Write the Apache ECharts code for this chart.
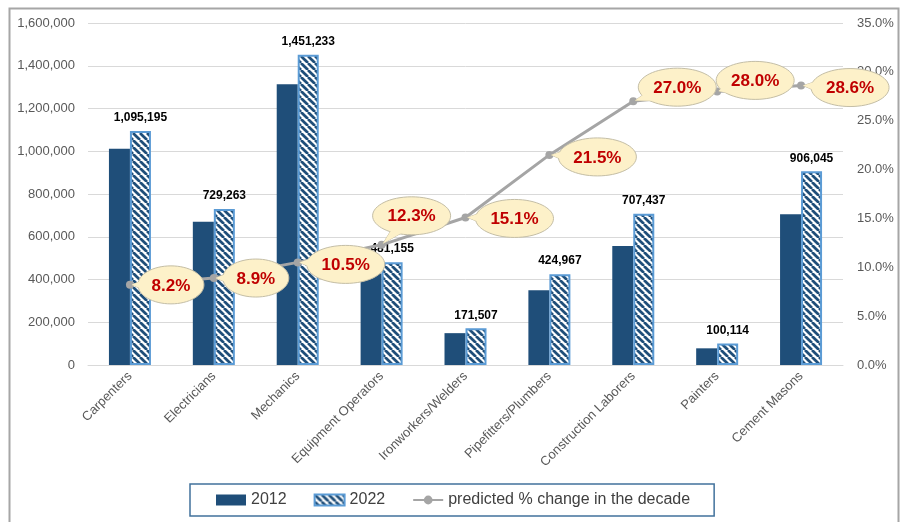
<!DOCTYPE html>
<html>
<head>
<meta charset="utf-8">
<script src="https://cdn.jsdelivr.net/npm/echarts@6/dist/echarts.min.js"></script>
<style>
html,body{margin:0;padding:0;background:#fff;}
#chart{width:904px;height:522px;}
</style>
</head>
<body>
<div id="chart"></div>
<script>
const categories = ['Carpenters','Electricians','Mechanics','Equipment Operators','Ironworkers/Welders','Pipefitters/Plumbers','Construction Laborers','Painters','Cement Masons'];
const values2012 = [1012000, 670000, 1313000, 428000, 149000, 350000, 557000, 78000, 705000];
const values2022 = [1095195, 729263, 1451233, 481155, 171507, 424967, 707437, 100114, 906045];
const pctChange = [8.2, 8.9, 10.5, 12.3, 15.1, 21.5, 27.0, 28.0, 28.6];
const seriesNames = ['2012', '2022', 'predicted % change in the decade'];

// layout only: where each callout bubble sits relative to its point (px)
const calloutOffsets = [[41,0],[42,0],[48,2],[30,-29],[49,1],[48,2],[44,-14],[38,-11],[49,2]];

const FONT = 'Liberation Sans';
const BUBBLE_FILL = '#FDF1C9';
const BUBBLE_STROKE = '#C4BEA6';

function hatch() {
  const c = document.createElement('canvas');
  c.width = 7; c.height = 7;
  const g = c.getContext('2d');
  g.fillStyle = '#ffffff';
  g.fillRect(0,0,7,7);
  g.strokeStyle = '#1F4E79';
  g.lineWidth = 2.7;
  for (let k = -1; k <= 1; k++) {
    g.beginPath();
    g.moveTo(k*7, 0);
    g.lineTo(k*7 + 7, 7);
    g.stroke();
  }
  return c;
}
const hatchPattern = { image: hatch(), repeat: 'repeat' };

const fmtNum = v => String(v).replace(/\B(?=(\d{3})+(?!\d))/g, ',');

function renderCallout(params, api) {
  const i = api.value(0);
  const v = api.value(1);
  const txt = v.toFixed(1) + '%';
  const p = api.coord([i, v]);
  const off = calloutOffsets[params.dataIndex];
  const rx = txt.length > 4 ? 39 : 33, ry = 19;
  const cx = p[0] + off[0], cy = p[1] + off[1];
  let dx = p[0] - cx, dy = p[1] - cy;
  const len = Math.sqrt(dx*dx + dy*dy) || 1;
  dx /= len; dy /= len;
  const edge = 1 / Math.sqrt((dx*dx)/(rx*rx) + (dy*dy)/(ry*ry));
  const bd = Math.max(edge - 8, 0);
  const bx = cx + dx*bd, by = cy + dy*bd;
  const px = -dy, py = dx;
  const hw = 6;
  const tipD = Math.max(len - 2, edge + 3);
  const tail = [[bx + px*hw, by + py*hw], [cx + dx*tipD, cy + dy*tipD], [bx - px*hw, by - py*hw]];
  return {
    type: 'group',
    children: [
      { type: 'polygon', shape: { points: tail }, style: { fill: BUBBLE_FILL, stroke: BUBBLE_STROKE, lineWidth: 1 } },
      { type: 'ellipse', shape: { cx: cx, cy: cy, rx: rx, ry: ry }, style: { fill: BUBBLE_FILL, stroke: BUBBLE_STROKE, lineWidth: 1 } },
      { type: 'polygon', shape: { points: tail }, style: { fill: BUBBLE_FILL } },
      { type: 'text', x: cx, y: cy + 1, style: {
          text: txt, fill: '#C00000',
          font: 'bold 17px "' + FONT + '"', align: 'center', verticalAlign: 'middle' } }
    ]
  };
}

const chart = echarts.init(document.getElementById('chart'), null, {renderer: 'canvas'});
chart.setOption({
  backgroundColor: '#ffffff',
  animation: false,
  textStyle: { fontFamily: FONT },
  graphic: [{
    type: 'rect', left: 7, top: 6, z: -10,
    shape: { width: 889, height: 522 },
    style: { fill: 'none', stroke: '#A6A6A6', lineWidth: 2 }
  }],
  grid: { left: 88, right: 61, top: 23, bottom: 157, containLabel: false },
  legend: {
    left: 190, top: 484,
    padding: [8, 24, 8, 26],
    borderColor: '#41719C', borderWidth: 1.5,
    itemWidth: 30, itemHeight: 11, itemGap: 27,
    textStyle: { fontSize: 16, color: '#404040', fontFamily: FONT },
    data: [{ name: seriesNames[0], icon: 'rect' }, { name: seriesNames[1], icon: 'rect' }, { name: seriesNames[2] }]
  },
  xAxis: {
    type: 'category',
    data: categories,
    axisLine: { lineStyle: { color: '#D9D9D9', width: 1 } },
    axisTick: { show: false },
    axisLabel: { rotate: 45, color: '#595959', fontSize: 13, margin: 9, interval: 0, fontFamily: FONT }
  },
  yAxis: [{
    type: 'value', min: 0, max: 1600000, interval: 200000,
    axisLine: { show: false }, axisTick: { show: false },
    splitLine: { lineStyle: { color: '#D9D9D9', width: 1 } },
    axisLabel: { color: '#595959', fontSize: 13, margin: 13, formatter: fmtNum, fontFamily: FONT }
  }, {
    type: 'value', min: 0, max: 35, interval: 5,
    axisLine: { show: false }, axisTick: { show: false },
    splitLine: { show: false },
    axisLabel: { color: '#595959', fontSize: 13, margin: 14, formatter: v => v.toFixed(1) + '%', fontFamily: FONT }
  }],
  series: [{
    name: seriesNames[0], type: 'bar', data: values2012,
    barWidth: 21, barGap: '0%',
    itemStyle: { color: '#1F4E79' }
  }, {
    name: seriesNames[1], type: 'bar', data: values2022,
    barWidth: 21,
    itemStyle: { color: hatchPattern, borderColor: '#5B9BD5', borderWidth: 2 },
    label: {
      show: true, position: 'top', distance: 7,
      formatter: p => fmtNum(p.value),
      color: '#000000', fontWeight: 'bold', fontSize: 12, fontFamily: FONT
    }
  }, {
    name: seriesNames[2], type: 'line', yAxisIndex: 1,
    data: pctChange,
    symbol: 'circle', symbolSize: 8,
    lineStyle: { color: '#A5A5A5', width: 3 },
    itemStyle: { color: '#A5A5A5' },
    z: 5
  }, {
    name: 'callouts', type: 'custom', yAxisIndex: 1,
    data: pctChange.map((v, i) => [i, v]),
    renderItem: renderCallout,
    z: 10, silent: true
  }]
});
</script>
</body>
</html>
